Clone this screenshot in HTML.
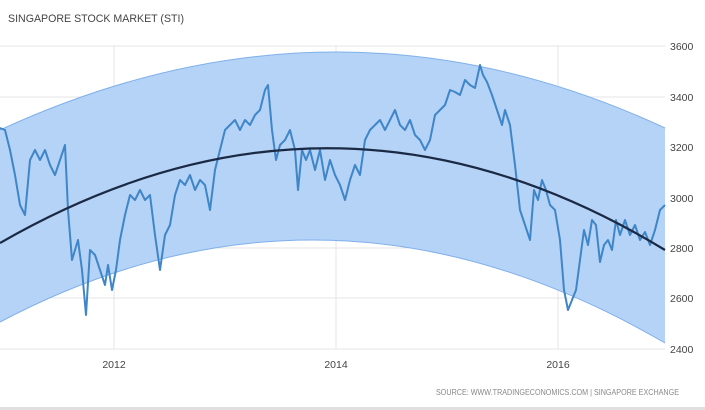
<!DOCTYPE html>
<html><head><meta charset="utf-8"><style>
html,body{margin:0;padding:0;background:#fff;width:705px;height:410px;overflow:hidden}
text{font-family:"Liberation Sans",sans-serif}
</style></head><body>
<svg width="705" height="410" viewBox="0 0 705 410">
<rect width="705" height="410" fill="#fff"/>
<text x="8" y="22" font-size="11" fill="#444" textLength="176" lengthAdjust="spacingAndGlyphs">SINGAPORE STOCK MARKET (STI)</text>
<g stroke="#e4e4e4" stroke-width="1">
<line x1="0" y1="46" x2="665" y2="46"/><line x1="0" y1="97" x2="665" y2="97"/>
<line x1="0" y1="147" x2="665" y2="147"/><line x1="0" y1="198" x2="665" y2="198"/>
<line x1="0" y1="248" x2="665" y2="248"/><line x1="0" y1="298" x2="665" y2="298"/>
<line x1="0" y1="349" x2="665" y2="349"/>
<line x1="114" y1="46" x2="114" y2="349"/><line x1="336" y1="46" x2="336" y2="349"/><line x1="558" y1="46" x2="558" y2="349"/>
</g>
<path d="M0,130 Q336,-25 665,128 L665,343 Q330,148 0,322 Z" fill="#b5d2f7" stroke="none"/>
<path d="M0,130 Q336,-25 665,128" fill="none" stroke="#7fb0ea" stroke-width="1"/>
<path d="M0,322 Q330,148 665,343" fill="none" stroke="#7fb0ea" stroke-width="1"/>
<path fill="none" stroke="#3f86c8" stroke-width="2" stroke-linejoin="round" d="M0,128 L5,130 L10,150 L15,175 L20,205 L25,215 L30,160 L35,150 L40,160 L45,150 L50,165 L55,175 L60,160 L65,145 L68,210 L72,260 L78,240 L82,270 L86,315 L90,250 L95,255 L100,270 L105,285 L108,265 L112,290 L116,270 L120,240 L125,215 L130,195 L135,200 L140,190 L145,200 L150,195 L155,235 L160,270 L165,235 L170,225 L175,195 L180,180 L185,185 L190,175 L195,190 L200,180 L205,185 L210,210 L215,170 L220,150 L225,130 L230,125 L235,120 L240,130 L245,120 L250,125 L255,115 L260,110 L265,90 L268,85 L272,130 L276,160 L280,145 L285,140 L290,130 L295,150 L298,190 L302,150 L306,160 L310,150 L315,170 L320,150 L325,180 L330,160 L335,175 L340,185 L345,200 L350,180 L355,165 L360,175 L365,140 L370,130 L375,125 L380,120 L385,130 L390,120 L395,110 L400,125 L405,130 L410,120 L415,135 L420,140 L425,150 L430,140 L435,115 L440,110 L445,105 L450,90 L455,92 L460,95 L465,80 L470,85 L475,88 L480,65 L483,75 L487,82 L492,95 L497,110 L502,125 L505,110 L510,125 L515,165 L520,210 L525,225 L530,240 L534,190 L538,200 L542,180 L546,190 L550,205 L555,210 L560,240 L564,290 L568,310 L572,300 L576,290 L580,260 L584,230 L588,245 L592,220 L596,225 L600,262 L604,245 L608,240 L612,250 L616,220 L620,235 L625,220 L630,235 L635,225 L640,240 L645,232 L650,245 L655,230 L660,210 L665,205"/>
<path d="M0,243 Q335,50 665,250" fill="none" stroke="#1b2a44" stroke-width="2.2"/>
<g font-size="10.5" fill="#444">
<text x="670" y="50">3600</text><text x="670" y="101">3400</text>
<text x="670" y="151">3200</text><text x="670" y="202">3000</text>
<text x="670" y="252">2800</text><text x="670" y="302">2600</text>
<text x="670" y="353">2400</text>
<text x="114" y="368" text-anchor="middle">2012</text>
<text x="336" y="368" text-anchor="middle">2014</text>
<text x="558" y="368" text-anchor="middle">2016</text>
</g>
<text x="436" y="395" font-size="8" fill="#888" textLength="243" lengthAdjust="spacingAndGlyphs">SOURCE: WWW.TRADINGECONOMICS.COM | SINGAPORE EXCHANGE</text>
<rect x="0" y="407" width="705" height="3" fill="#e0e0e0"/>
</svg>
</body></html>
